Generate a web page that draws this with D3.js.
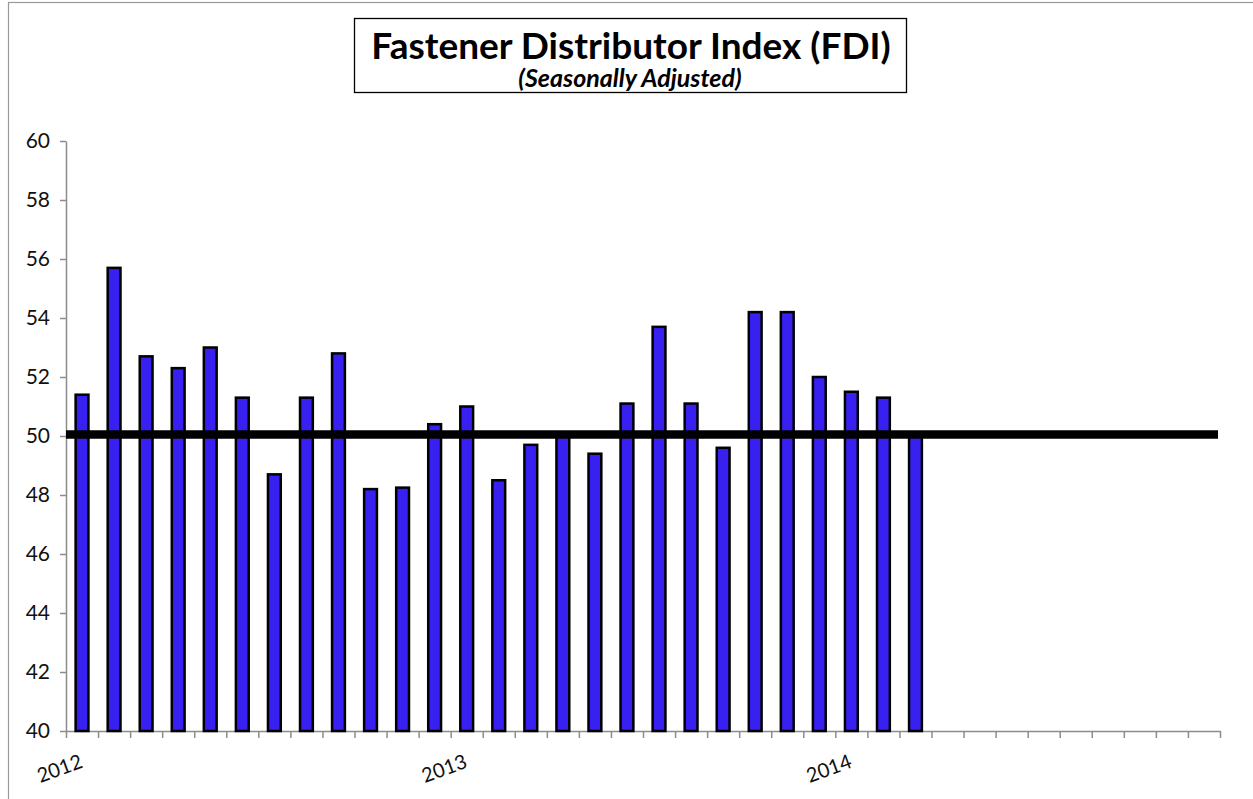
<!DOCTYPE html>
<html>
<head>
<meta charset="utf-8">
<script src="https://cdn.jsdelivr.net/npm/d3@7"></script>
<style>
  body { margin: 0; background: #fff; }
  svg { display: block; }
</style>
</head>
<body>
<div id="chart"></div>
<script>
'use strict';

// monthly slots on the x axis, Jan 2012 .. Dec 2014
var months = [];
[2012, 2013, 2014].forEach(function(y){
	for (var m = 1; m <= 12; m++) months.push(y + '-' + (m < 10 ? '0' + m : m));
});

// FDI readings, Jan 2012 .. Mar 2014
var fdiValues = [51.4, 55.7, 52.7, 52.3, 53.0, 51.3, 48.7, 51.3, 52.8, 48.2, 48.25, 50.4,
                 51.0, 48.5, 49.7, 50.0, 49.4, 51.1, 53.7, 51.1, 49.6, 54.2, 54.2, 52.0,
                 51.5, 51.3, 50.0];

var yTicks = [40, 42, 44, 46, 48, 50, 52, 54, 56, 58, 60];
var yearLabels = ['2012', '2013', '2014'];
var yearIndex = [0, 12, 24];
var baseline = 50;

var width = 1253, height = 799;
var margin = {top: 141, right: 33, bottom: 68, left: 66};
var font = 'Lato, "Open Sans", sans-serif';

var svg = d3.select('#chart').append('svg')
	.attr('width', width)
	.attr('height', height);

// outer chart frame (runs off the right and bottom edges)
svg.append('rect')
	.attr('x', 8.5).attr('y', 2.5)
	.attr('width', width + 20).attr('height', height + 20)
	.attr('fill', 'none')
	.attr('stroke', '#9a9a9a')
	.attr('stroke-width', 1.2);

var x = d3.scaleBand()
	.domain(months)
	.range([margin.left, width - margin.right])
	.paddingInner(0.6)
	.paddingOuter(0.3);

var xTick = d3.scaleLinear()
	.domain([0, months.length])
	.range([margin.left, width - margin.right]);

var y = d3.scaleLinear()
	.domain([40, 60])
	.range([height - margin.bottom, margin.top]);

// y axis
var yAxis = svg.append('g')
	.attr('transform', 'translate(' + margin.left + ',0)')
	.call(d3.axisLeft(y).tickValues(yTicks).tickSize(6).tickSizeOuter(0).tickPadding(10));
yAxis.selectAll('path, line').attr('stroke', '#8c8c8c').attr('stroke-width', 1.5);
yAxis.selectAll('text')
	.attr('font-family', font)
	.attr('font-size', 21)
	.attr('fill', '#111');

// x axis with a tick at every month boundary
var xAxis = svg.append('g')
	.attr('transform', 'translate(0,' + (height - margin.bottom) + ')')
	.call(d3.axisBottom(xTick).tickValues(d3.range(0, months.length + 1)).tickSize(7).tickSizeOuter(0).tickFormat(''));
xAxis.selectAll('path, line').attr('stroke', '#8c8c8c').attr('stroke-width', 1.5);

svg.append('g').selectAll('text')
	.data(yearLabels)
	.enter().append('text')
	.attr('transform', function(d, i){
		return 'translate(' + (xTick(yearIndex[i]) - 4) + ',' + (height - margin.bottom + 44) + ') rotate(-20)';
	})
	.attr('text-anchor', 'middle')
	.attr('font-family', font)
	.attr('font-size', 20)
	.attr('fill', '#111')
	.text(function(d){ return d; });

// bars
svg.append('g').selectAll('rect')
	.data(fdiValues)
	.enter().append('rect')
	.attr('x', function(d, i){ return x(months[i]); })
	.attr('y', function(d){ return y(d); })
	.attr('width', x.bandwidth())
	.attr('height', function(d){ return y(40) - y(d); })
	.attr('fill', '#3820f0')
	.attr('stroke', '#000')
	.attr('stroke-width', 2.5);

// 50 line
svg.append('line')
	.attr('x1', margin.left)
	.attr('x2', width - margin.right - 2)
	.attr('y1', y(baseline) - 1.5)
	.attr('y2', y(baseline) - 1.5)
	.attr('stroke', '#000')
	.attr('stroke-width', 8.5);

// title box
svg.append('rect')
	.attr('x', 354.5).attr('y', 18.5)
	.attr('width', 552).attr('height', 74)
	.attr('fill', '#fff')
	.attr('stroke', '#000')
	.attr('stroke-width', 1.3);

svg.append('text')
	.attr('x', 631).attr('y', 59)
	.attr('text-anchor', 'middle')
	.attr('font-family', font)
	.attr('font-weight', 'bold')
	.attr('font-size', 37)
	.attr('fill', '#000')
	.text('Fastener Distributor Index (FDI)');

svg.append('text')
	.attr('x', 630).attr('y', 87)
	.attr('text-anchor', 'middle')
	.attr('font-family', font)
	.attr('font-weight', 'bold')
	.attr('font-style', 'italic')
	.attr('font-size', 25)
	.attr('fill', '#000')
	.text('(Seasonally Adjusted)');
</script>
</body>
</html>
